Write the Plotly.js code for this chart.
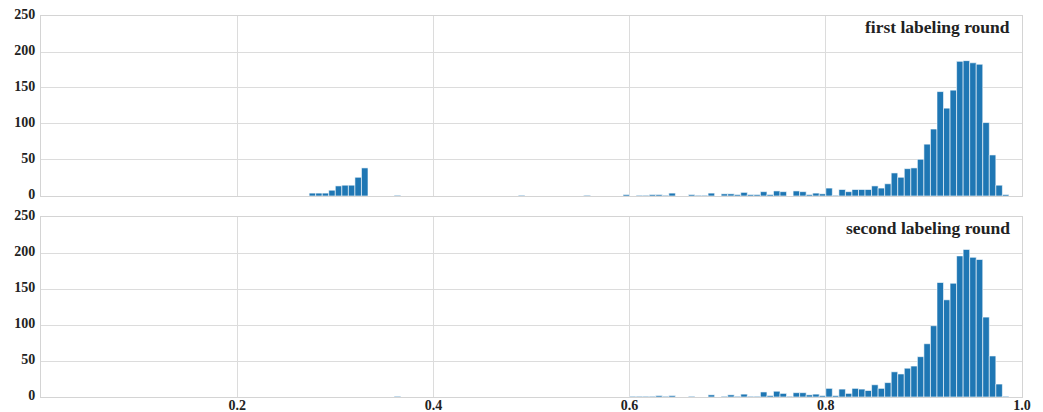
<!DOCTYPE html>
<html>
<head>
<meta charset="utf-8">
<script src="https://cdn.plot.ly/plotly-3.0.1.min.js"></script>
<style>html,body{margin:0;padding:0;background:#fff;}#chart{width:1043px;height:412px;}</style>
</head>
<body>
<div id="chart"></div>
<script>
// Histogram: 150 equal bins on [0, 1]; bins given by index, counts
const nBins = 150;
const firstRoundBins = [41,42,43,44,45,46,47,48,49,54,73,83,89,91,92,93,94,95,96,99,100,101,102,104,105,106,107,108,109,110,111,112,113,115,116,117,118,119,120,121,122,123,124,125,126,127,128,129,130,131,132,133,134,135,136,137,138,139,140,141,142,143,144,145,146,147];
const firstRoundCounts = [4,4,4,8,14,15,15,26,39,1,1,1,2,1,1,2,2,1,4,2,1,1,4,3,3,2,5,2,2,6,2,7,6,7,6,2,4,3,11,1,9,6,9,9,9,14,11,17,32,26,38,39,51,72,93,145,122,147,187,188,185,183,102,57,15,2];
const secondRoundBins = [54,90,91,92,93,94,95,96,99,102,104,105,106,107,108,109,110,111,112,113,114,115,116,117,118,119,120,121,122,123,124,125,126,127,128,129,130,131,132,133,134,135,136,137,138,139,140,141,142,143,144,145,146,147];
const secondRoundCounts = [1,1,1,1,1,2,1,2,1,3,1,3,1,4,1,1,7,2,8,5,1,6,6,3,4,2,12,2,11,5,12,11,9,17,12,20,35,32,40,43,56,74,99,159,135,158,196,205,194,191,111,57,18,1];
const panelLabels = ["first labeling round", "second labeling round"];
const xTicks = [0.2, 0.4, 0.6, 0.8, 1.0];
const yTicks = [0, 50, 100, 150, 200, 250];

const binWidth = 1 / nBins;
const centers = bins => bins.map(k => (k + 0.5) * binWidth);

const barColor = '#1f77b4';
const mk = (bins, counts, xa, ya) => ({
  type: 'bar', x: centers(bins), y: counts, width: binWidth,
  xaxis: xa, yaxis: ya,
  marker: {color: barColor, line: {color: 'rgba(255,255,255,0.85)', width: 0.7}},
  hoverinfo: 'x+y', showlegend: false
});

const data = [
  mk(firstRoundBins, firstRoundCounts, 'x', 'y'),
  mk(secondRoundBins, secondRoundCounts, 'x2', 'y2')
];

const fam = 'Liberation Serif, DejaVu Serif, serif';
const tickFont = {family: fam, size: 14, color: '#222', weight: 'bold'};
const gridC = '#dcdcdc';
const lineC = '#d4d4d4';

const xBase = {
  range: [0, 1], tickvals: xTicks, tickformat: '.1f',
  showgrid: true, gridcolor: gridC, gridwidth: 1,
  showline: true, linecolor: lineC, linewidth: 1, mirror: true,
  zeroline: false, ticks: '', tickfont: tickFont, ticklabelstandoff: -5
};
const yBase = {
  range: [0, 250], tickvals: yTicks,
  showgrid: true, gridcolor: gridC, gridwidth: 1,
  showline: true, linecolor: lineC, linewidth: 1, mirror: true,
  zeroline: false, ticks: '', tickfont: tickFont, ticklabelshift: -2, ticklabelstandoff: 2
};

const layout = {
  width: 1043, height: 412,
  margin: {l: 41, r: 21, t: 16, b: 15},
  paper_bgcolor: '#fff', plot_bgcolor: '#fff',
  bargap: 0,
  xaxis: Object.assign({}, xBase, {anchor: 'y', showticklabels: false, matches: 'x2'}),
  yaxis: Object.assign({}, yBase, {anchor: 'x', domain: [0.5276, 1]}),
  xaxis2: Object.assign({}, xBase, {anchor: 'y2'}),
  yaxis2: Object.assign({}, yBase, {anchor: 'x2', domain: [0, 0.4724]}),
  annotations: [
    {text: panelLabels[0], xref: 'x domain', yref: 'y domain', x: 0.99, y: 0.94, xanchor: 'right', yanchor: 'middle', showarrow: false,
     font: {family: fam, size: 17.5, color: '#222', weight: 'bold'}},
    {text: panelLabels[1], xref: 'x2 domain', yref: 'y2 domain', x: 0.99, y: 0.94, xanchor: 'right', yanchor: 'middle', showarrow: false,
     font: {family: fam, size: 17.5, color: '#222', weight: 'bold'}}
  ]
};

Plotly.newPlot('chart', data, layout, {displayModeBar: false, staticPlot: true});
</script>
</body>
</html>
